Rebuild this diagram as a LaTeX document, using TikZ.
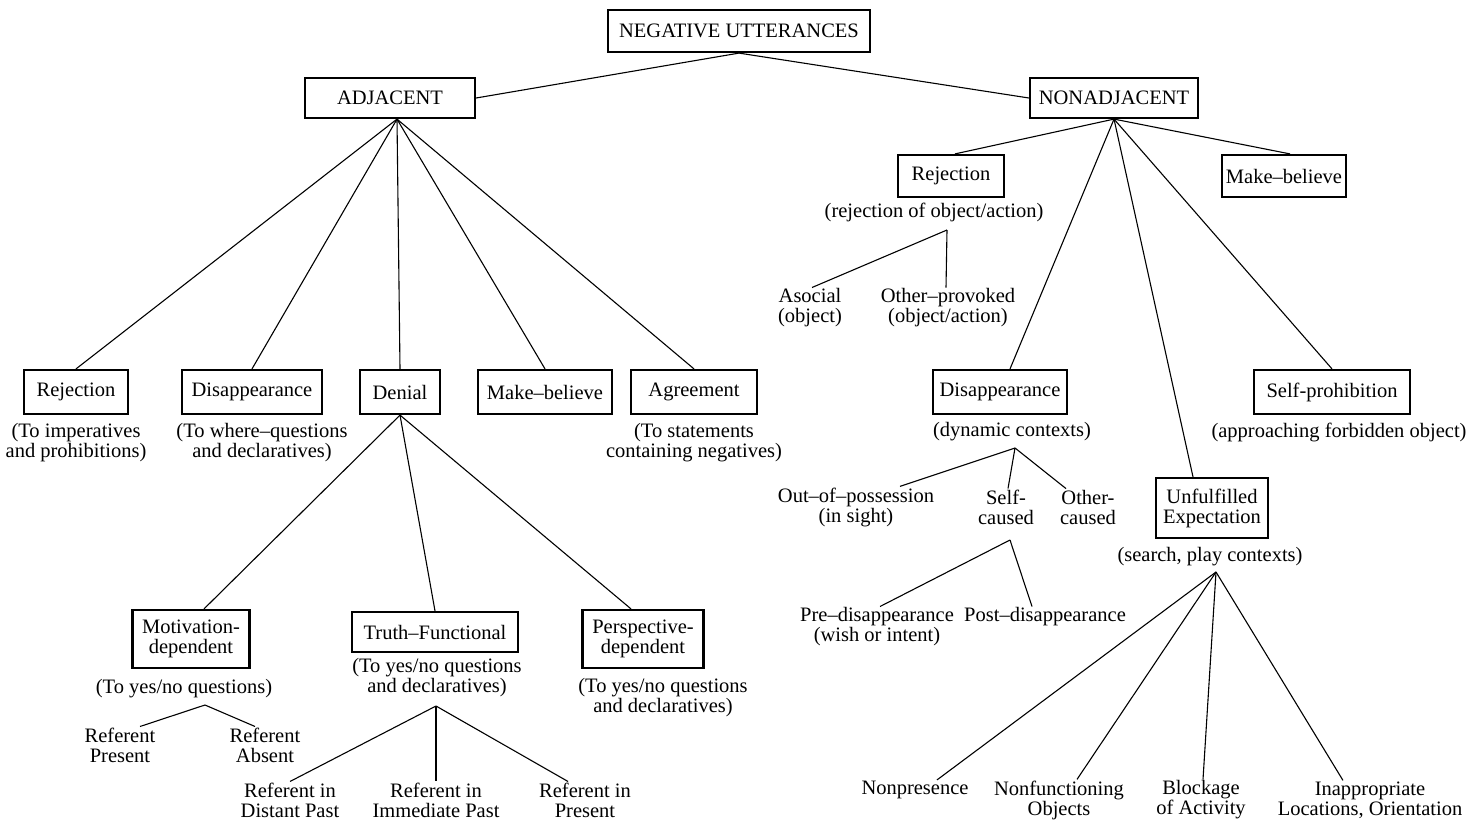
\documentclass[tikz,border=0pt]{standalone}
\usepackage{fontspec}
\setmainfont{Liberation Serif}
\begin{document}
\begin{tikzpicture}[x=1pt,y=-1pt,
  font=\fontsize{20.5}{20}\selectfont,
  box/.style={draw, line width=2.2pt, fill=white, inner sep=0pt, align=center},
  lbl/.style={inner sep=1pt, align=center},
  ln/.style={line width=1.1pt}]
\useasboundingbox[fill=white] (0,0) rectangle (1472,822);

% top
\node[box, minimum width=262, minimum height=42] (neg) at (739,31) {NEGATIVE UTTERANCES};
\node[box, minimum width=170, minimum height=40] (adj) at (390,98) {ADJACENT};
\node[box, minimum width=168, minimum height=40] (nadj) at (1114,98) {NONADJACENT};
\draw[ln] (neg.south) -- (adj.east);
\draw[ln] (neg.south) -- (nadj.west);

% adjacent children
\node[box, minimum width=104, minimum height=44] (rej1) at (76,392) {Rejection};
\node[box, minimum width=140, minimum height=44] (dis1) at (252,392) {Disappearance};
\node[box, minimum width=80, minimum height=44] (den) at (400,392) {Denial};
\node[box, minimum width=134, minimum height=44] (mb1) at (545,392) {Make–believe};
\node[box, minimum width=126, minimum height=44] (agr) at (694,392) {Agreement};
\foreach \n in {rej1,dis1,den,mb1,agr} \draw[ln] ([xshift=7]adj.south) -- (\n.north);

\node[lbl] (rej1s) at (76,443) {(To imperatives\\and prohibitions)};
\node[lbl] (dis1s) at (262,443) {(To where–questions\\and declaratives)};
\node[lbl] (agrs) at (694,443) {(To statements\\containing negatives)};

% denial children
\node[box, minimum width=117, minimum height=58] (mot) at (191,639) {Motivation-\\dependent};
\node[box, minimum width=166, minimum height=40] (tf) at (435,632) {Truth–Functional};
\node[box, minimum width=121, minimum height=58] (per) at (643,639) {Perspective-\\dependent};
\draw[ln] (den.south) -- ([xshift=13]mot.north);
\draw[ln] (den.south) -- (tf.north);
\draw[ln] (den.south) -- ([xshift=-12]per.north);

\node[lbl] (mots) at (184,689) {(To yes/no questions)};
\node[lbl] (tfs) at (437,678) {(To yes/no questions\\and declaratives)};
\node[lbl] (pers) at (663,698) {(To yes/no questions\\and declaratives)};

\coordinate (motm) at (205,705);
\node[lbl] (rp) at (120,745) {Referent\\Present};
\node[lbl] (ra) at (265,745) {Referent\\Absent};
\draw[ln] (motm) -- ([xshift=20]rp.north);
\draw[ln] (motm) -- ([xshift=-10]ra.north);

\coordinate (tfm) at (436,706);
\node[lbl] (rd) at (290,800) {Referent in\\Distant Past};
\node[lbl] (ri) at (436,800) {Referent in\\Immediate Past};
\node[lbl] (rpr) at (585,800) {Referent in\\Present};
\draw[ln] (tfm) -- (rd.north);
\draw[ln] (tfm) -- (ri.north);
\draw[ln] (tfm) -- ([xshift=-17]rpr.north);

% nonadjacent children
\node[box, minimum width=106, minimum height=42] (rej2) at (951,176) {Rejection};
\node[box, minimum width=124, minimum height=42] (mb2) at (1284,176) {Make–believe};
\node[box, minimum width=134, minimum height=44] (dis2) at (1000,392) {Disappearance};
\node[box, minimum width=156, minimum height=44] (sp) at (1332,392) {Self-prohibition};
\node[box, minimum width=112, minimum height=60] (ue) at (1212,508) {Unfulfilled\\Expectation};
\draw[ln] (nadj.south) -- ([xshift=4]rej2.north);
\draw[ln] (nadj.south) -- ([xshift=6]mb2.north);
\draw[ln] (nadj.south) -- ([xshift=10]dis2.north);
\draw[ln] (nadj.south) -- ([xshift=-19]ue.north);
\draw[ln] (nadj.south) -- (sp.north);

\node[lbl] (rej2s) at (934,212) {(rejection of object/action)};
\coordinate (rejm) at (947,230);
\node[lbl] (aso) at (810,308) {Asocial\\(object)};
\node[lbl] (op) at (948,308) {Other–provoked\\(object/action)};
\draw[ln] (rejm) -- ([xshift=2]aso.north);
\draw[ln] (rejm) -- ([xshift=-2]op.north);

\node[lbl] (dis2s) at (1012,432) {(dynamic contexts)};
\coordinate (dism) at (1015,448);
\node[lbl] (oop) at (856,507) {Out–of–possession\\(in sight)};
\node[lbl] (sc) at (1006,507) {Self-\\caused};
\node[lbl] (oc) at (1088,507) {Other-\\caused};
\draw[ln] (dism) -- ([xshift=44]oop.north);
\draw[ln] (dism) -- ([xshift=2]sc.north);
\draw[ln] (dism) -- ([xshift=-22]oc.north);

\coordinate (scm) at (1010,540);
\node[lbl] (pd) at (877,627) {Pre–disappearance\\(wish or intent)};
\node[lbl] (pod) at (1045,617) {Post–disappearance};
\draw[ln] (scm) -- ([xshift=3]pd.north);
\draw[ln] (scm) -- ([xshift=-13]pod.north);

\node[lbl] (sps) at (1339,432) {(approaching forbidden object)};

\node[lbl] (ues) at (1210,557) {(search, play contexts)};
\coordinate (uem) at (1216,572);
\node[lbl] (np) at (915,790) {Nonpresence};
\node[lbl] (nf) at (1059,800) {Nonfunctioning\\Objects};
\node[lbl] (bl) at (1201,800) {Blockage\\of Activity};
\node[lbl] (ia) at (1370,800) {Inappropriate\\Locations, Orientation};
\draw[ln] (uem) -- ([xshift=22]np.north);
\draw[ln] (uem) -- ([xshift=18]nf.north);
\draw[ln] (uem) -- ([xshift=2]bl.north);
\draw[ln] (uem) -- ([xshift=-27]ia.north);
\end{tikzpicture}
\end{document}
